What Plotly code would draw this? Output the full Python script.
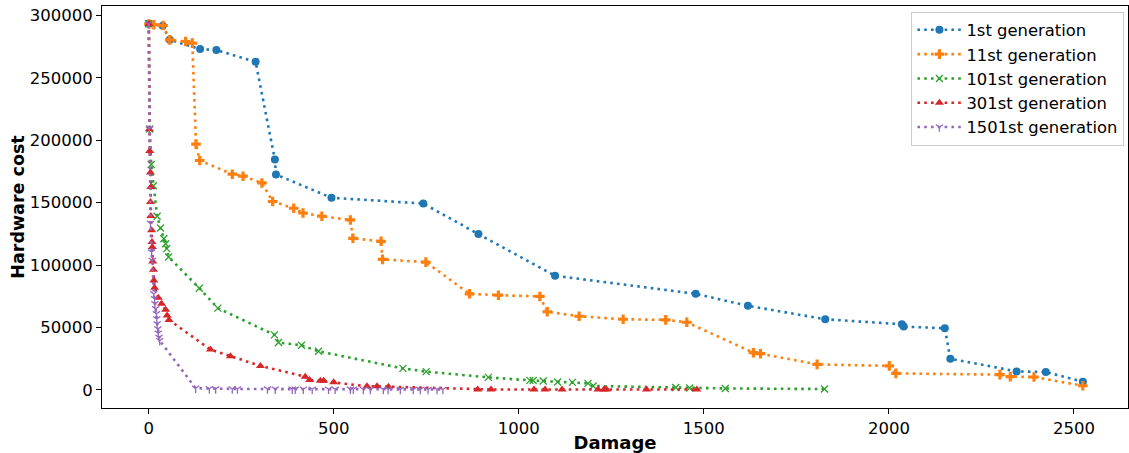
import plotly.graph_objects as go

# ---- data ----
gen1_damage = [0, 38, 57, 139, 183, 289, 341, 344, 494, 742, 891, 1098, 1478, 1619, 1828, 2035, 2040, 2151, 2166, 2345, 2424, 2524]
gen1_cost = [293400, 291800, 280500, 273100, 272300, 262900, 184600, 172600, 153900, 149300, 124800, 91400, 76900, 67300, 56500, 52500, 50600, 49300, 24900, 14700, 14200, 6400]

gen11_damage = [1, 14, 39, 57, 100, 118, 128, 138, 226, 255, 306, 335, 392, 417, 468, 545, 552, 628, 632, 749, 867, 945, 1057, 1077, 1163, 1282, 1397, 1454, 1634, 1653, 1806, 2001, 2019, 2300, 2328, 2392, 2524]
gen11_cost = [293200, 292600, 292000, 280500, 279200, 277900, 196900, 183800, 172800, 171200, 165800, 150900, 145500, 141700, 139100, 136100, 121400, 119000, 104500, 102300, 76900, 75800, 74800, 62500, 58900, 56500, 56000, 54100, 29700, 28900, 20300, 19100, 13100, 12100, 10500, 10200, 3200]

gen101_damage = [0, 3, 7, 13, 23, 32, 41, 46, 49, 54, 137, 187, 340, 351, 413, 459, 687, 750, 918, 1030, 1039, 1066, 1105, 1145, 1187, 1201, 1424, 1462, 1558, 1826]
gen101_cost = [293400, 209000, 180600, 163600, 139100, 129700, 121100, 117100, 113100, 106400, 81400, 65400, 44000, 37800, 35600, 30800, 17100, 14500, 9900, 7500, 7400, 7000, 6200, 5900, 5100, 3000, 1800, 1400, 1000, 600]

gen301_damage = [1, 2, 3, 5, 6, 5, 6, 8, 9, 10, 11, 13, 14, 16, 26, 35, 46, 50, 55, 167, 221, 302, 423, 435, 464, 473, 500, 590, 617, 648, 889, 925, 1041, 1071, 1117, 1214, 1230, 1237, 1345, 1481]
gen301_cost = [293200, 208800, 191300, 174200, 162600, 150600, 139300, 127800, 118400, 114400, 102900, 96200, 87600, 81800, 73700, 68900, 64100, 59500, 56000, 32200, 26800, 19100, 10500, 7800, 7200, 7100, 5900, 2700, 2700, 2400, 200, 200, 200, 200, 200, 200, 200, 200, 200, 200]

gen1501_damage = [0, 2, 5, 8, 10, 14, 16, 17, 19, 21, 22, 23, 25, 26, 28, 30, 127, 164, 181, 226, 240, 321, 342, 388, 396, 418, 442, 486, 504, 545, 553, 580, 599, 634, 647, 680, 715, 734, 755, 779, 795]
gen1501_cost = [293400, 209000, 133400, 110400, 103700, 76900, 72900, 68900, 64900, 60900, 56800, 52800, 48800, 45300, 42000, 39400, 1200, 800, 700, 650, 600, 550, 500, 480, 460, 440, 420, 400, 380, 360, 340, 320, 300, 290, 280, 270, 260, 250, 240, 230, 220]

series_names = ["1st generation", "11st generation", "101st generation", "301st generation", "1501st generation"]
series_x = [gen1_damage, gen11_damage, gen101_damage, gen301_damage, gen1501_damage]
series_y = [gen1_cost, gen11_cost, gen101_cost, gen301_cost, gen1501_cost]

x_ticks = [0, 500, 1000, 1500, 2000, 2500]
y_ticks = [0, 50000, 100000, 150000, 200000, 250000, 300000]

# ---- styles ----
colors = ["#1f77b4", "#ff7f0e", "#2ca02c", "#d62728", "#9467bd"]
symbols = ["circle", "cross", "x-thin-open", "triangle-up", "y-down-open"]
msizes = [8, 8, 7, 8, 6]

fig = go.Figure()
for name, xs, ys, c, s, ms in zip(series_names, series_x, series_y, colors, symbols, msizes):
    open_sym = s.endswith("open")
    fig.add_trace(go.Scatter(
        x=xs, y=ys, name=name, mode="lines+markers",
        line=dict(color=c, width=2.6, dash="2.6px,4.2px"),
        marker=dict(symbol=s, size=ms, color=c,
                    line=dict(color=c, width=1.3 if open_sym else 0)),
    ))

axis_font = dict(family="DejaVu Sans", size=16.5, color="black")
fig.update_layout(
    width=1129, height=453,
    margin=dict(l=102, r=1, t=6, b=45),
    paper_bgcolor="white", plot_bgcolor="white",
    font=dict(family="DejaVu Sans", size=16, color="black"),
    showlegend=True,
    legend=dict(x=0.9965, y=0.986, xanchor="right", yanchor="top",
                bgcolor="rgba(255,255,255,0.8)", bordercolor="#cccccc", borderwidth=1,
                font=dict(family="DejaVu Sans", size=16.4, color="black"),
                itemwidth=44, tracegroupgap=0),
    xaxis=dict(range=[-126, 2646], tickvals=x_ticks, ticktext=[str(v) for v in x_ticks],
               showgrid=False, zeroline=False, showline=True, linecolor="black", linewidth=1,
               mirror=True, ticks="outside", ticklen=5, tickcolor="black", tickfont=axis_font,
               title=dict(text="<b>Damage</b>", font=dict(family="DejaVu Sans", size=18, color="black"), standoff=4),
               automargin=False),
    yaxis=dict(range=[-14650, 307650], tickvals=y_ticks, ticktext=[str(v) for v in y_ticks],
               showgrid=False, zeroline=False, showline=True, linecolor="black", linewidth=1,
               mirror=True, ticks="outside", ticklen=5, tickcolor="black", tickfont=axis_font,
               title=dict(text="<b>Hardware cost</b>", font=dict(family="DejaVu Sans", size=17.5, color="black"), standoff=0),
               automargin=False),
)

fig.write_html("out.html", config={"displayModeBar": False},
               post_script="document.body.style.margin='0';document.body.style.padding='0';")
